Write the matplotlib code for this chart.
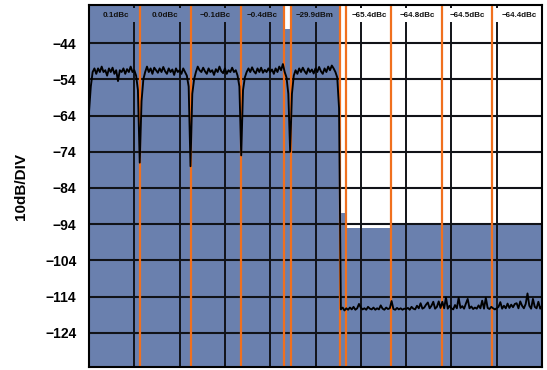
#!/usr/bin/python
########################
# spectrum plot: channel power / ACLR style screen capture
########################

#################################
# Importing Modules
#################################
import numpy as np
import matplotlib
matplotlib.use("Agg")
import matplotlib.pyplot as plt

#################################
# Data
#################################
# sweep position in screen divisions (0..10), 0.04 div per point
trace_x = np.round(np.arange(0, 251) * 0.04, 2)

# trace level in dB, one row per division
trace_db = [
    -63, -56, -52, -51, -52.5, -51, -52, -50.5, -52, -51.5, -53, -51, -52, -50.8, -52.5, -51.5, -54.5, -51.5, -52, -51, -52.5, -51.2, -52, -50.5, -52,
    -51.5, -53, -57, -77, -60, -54, -52, -50.5, -52, -51, -52.5, -50.8, -51.5, -52.2, -51, -52, -50.6, -51.8, -52.5, -51, -52, -51.3, -52.8, -51, -52,
    -51.5, -52.5, -51, -52, -53, -56, -78, -58, -54, -52, -50.5, -51.5, -52, -50.8, -51.8, -52.5, -51, -52, -51.5, -52.8, -51.2, -52, -50.5, -51.8, -52.3,
    -51, -52.5, -51.5, -52, -50.8, -52, -51.5, -53, -56, -75, -57, -53.5, -52, -51, -52, -50.7, -51.8, -52.4, -51, -52, -50.8, -52.2, -51.4, -52, -51,
    -52, -51.3, -52.5, -51, -52, -50.5, -51.5, -49.8, -52, -53.5, -58, -74, -58, -53, -51.5, -52.5, -51, -52, -50.8, -51.8, -52.5, -51, -52, -51.3, -52.4,
    -51, -52, -50.6, -51.8, -52.5, -51, -52, -50.5, -51.5, -50.2, -51, -52, -53.5, -62, -117.5, -117, -117.8, -117.2, -117.6, -117, -117.5, -116.8, -117.6, -117.2, -116,
    -117, -117.5, -117.2, -117.6, -116.8, -117.3, -117.5, -117, -117.6, -117.2, -117.5, -116.4, -117.3, -117.6, -117, -117.4, -117.2, -115.2, -117.4, -117.6, -117.1, -117.5, -117.2, -117.6, -117.3,
    -117.4, -117.1, -117.6, -116.8, -117.3, -117.5, -116.5, -117.2, -115.8, -117.3, -117, -116.2, -115.6, -117.2, -116.5, -115.4, -117.3, -116.8, -115.3, -117.1, -115.4, -117.2, -114.2, -117.3, -116.5,
    -117.2, -117.5, -116.3, -117.2, -114.3, -117.1, -116.6, -117.3, -115.9, -114.6, -117.2, -116.7, -117.4, -117, -117.3, -116.4, -117.2, -115.1, -117.3, -114.3, -117.1, -117.4, -116.8, -117.2, -117.5,
    -117.2, -116.8, -115.5, -117.3, -116.5, -117.2, -115.9, -117.1, -116.2, -116.9, -116.0, -115.8, -117.2, -115.3, -116.5, -117.2, -116, -113.1, -116.5, -117.3, -114.6, -116.8, -117.2, -115.4, -117.3,
    -116.5,
]

# integration / limit band (step shape behind the trace)
band_edges = [0, 4.30, 4.44, 5.54, 5.67, 6.67, 10]
band_levels = [-33.5, -40, -33.5, -91, -95, -94]

# channel / marker lines
marker_x = [1.126, 2.25, 3.355, 4.30, 4.45, 5.54, 5.67, 6.67, 7.79, 8.90]

# channel result labels
label_x = [0.60, 1.67, 2.78, 3.83, 4.99, 6.18, 7.24, 8.36, 9.50]
label_text = ["0.1dBc", "0.0dBc", "\u22120.1dBc", "\u22120.4dBc", "\u221229.9dBm",
              "\u221265.4dBc", "\u221264.8dBc", "\u221264.5dBc", "\u221264.4dBc"]

y_ticks = [-44, -54, -64, -74, -84, -94, -104, -114, -124]

#################################
# Constants
#################################
FILL = "#6A80AE"
ORANGE = "#F0701E"
GRID = "#111318"
Y_MIN, Y_MAX = -133.4, -33.5

#################################
# Performing Work
#################################
plt.rcParams["font.family"] = ["Liberation Sans", "DejaVu Sans"]

fig = plt.figure(figsize=(5.47, 3.70), dpi=100)
ax = fig.add_axes([89 / 547, 3 / 370, 453 / 547, 362 / 370])
ax.set_xlim(0, 10)
ax.set_ylim(Y_MIN, Y_MAX)

# blue band
levels_ext = band_levels + [band_levels[-1]]
ax.fill_between(band_edges, levels_ext, Y_MIN, step="post", color=FILL,
                linewidth=0, zorder=1)

# grid
for y in y_ticks:
    ax.axhline(y, color=GRID, linewidth=1.5, zorder=2)
for k in range(1, 10):
    ax.vlines(k, Y_MIN, -38.3, color=GRID, linewidth=1.4, zorder=2)
    ax.vlines(k, -34.4, Y_MAX, color=GRID, linewidth=1.4, zorder=2)

# markers
for x in marker_x:
    ax.axvline(x, color=ORANGE, linewidth=1.6, zorder=3)

# trace
ax.plot(trace_x, trace_db, color="black", linewidth=1.35, zorder=4)

# labels
for x, t in zip(label_x, label_text):
    ax.text(x, -36.4, t, ha="center", va="center", fontsize=5.8,
            fontweight="bold", color="#111111", zorder=5)

ax.set_xticks([])
ax.set_yticks(y_ticks)
ax.set_yticklabels([str(v).replace("-", "\u2212") for v in y_ticks],
                   fontsize=10, fontweight="bold")
ax.tick_params(axis="y", length=0, pad=9)
ax.set_ylabel("10dB/DIV", fontsize=11, fontweight="bold", labelpad=12)

for s in ax.spines.values():
    s.set_linewidth(1.5)
    s.set_color("black")
    s.set_zorder(6)

fig.savefig("out.png", dpi=100)
